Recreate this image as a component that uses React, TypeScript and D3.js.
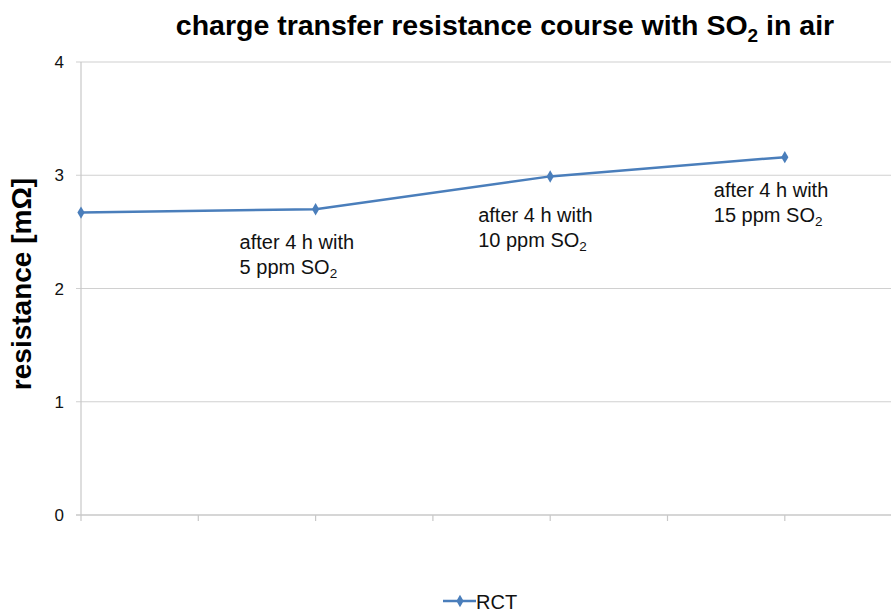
import React from "react";
import * as d3 from "d3";

const xPositions = [0, 2, 4, 6];
const rctValues = [2.67, 2.7, 2.99, 3.16];
const yTicks = [0, 1, 2, 3, 4];
const xTicks = [0, 1, 2, 3, 4, 5, 6, 7];
const annotationX = [2, 4, 6];
const annotationLine1 = ["after 4 h with", "after 4 h with", "after 4 h with"];
const annotationLine2 = ["5 ppm SO", "10 ppm SO", "15 ppm SO"];

const W = 891;
const H = 614;
const left = 81;
const top = 62;
const bottom = 515;
const annOffsets = [
  { dx: -76, dy: 40 },
  { dx: -72, dy: 46 },
  { dx: -71, dy: 40 },
];

export default function App() {
  const x = d3.scaleLinear().domain([0, 7]).range([left, left + 7 * 117.3]);
  const y = d3.scaleLinear().domain([0, 4]).range([bottom, top]);
  const line = d3
    .line<number>()
    .x((_, i) => x(xPositions[i]))
    .y((d) => y(d));
  const diamond = d3.symbol().type(d3.symbolDiamond).size(45)() as string;
  const font = "Liberation Sans, Arial, sans-serif";
  const lineColor = "#4a7ebb";

  return (
    <svg
      width={W}
      height={H}
      style={{ position: "absolute", left: 0, top: 0, background: "#fff" }}
      fontFamily={font}
    >
      {yTicks.slice(1).map((t) => (
        <line key={t} x1={left - 5} x2={W} y1={y(t)} y2={y(t)} stroke="#d0d0d0" strokeWidth={1.2} />
      ))}
      <line x1={left} x2={left} y1={top} y2={bottom} stroke="#c8c8c8" strokeWidth={1.2} />
      <line x1={left - 5} x2={W} y1={bottom} y2={bottom} stroke="#c8c8c8" strokeWidth={1.4} />
      {xTicks.map((t) => (
        <line key={t} x1={x(t)} x2={x(t)} y1={bottom} y2={bottom + 6} stroke="#c8c8c8" strokeWidth={1.2} />
      ))}
      {yTicks.map((t) => (
        <text key={t} x={64} y={y(t) + 6} textAnchor="end" fontSize={17} fill="#111">
          {t}
        </text>
      ))}
      <text
        transform={`translate(31, 284) rotate(-90)`}
        textAnchor="middle"
        fontSize={28}
        fontWeight="bold"
        fill="#000"
      >
        resistance [mΩ]
      </text>
      <text x={505} y={35} textAnchor="middle" fontSize={28.5} fontWeight="bold" fill="#000">
        charge transfer resistance course with SO
        <tspan fontSize={19} dy={7}>2</tspan>
        <tspan dy={-7}> in air</tspan>
      </text>
      <path d={line(rctValues) || ""} fill="none" stroke={lineColor} strokeWidth={2.5} />
      {rctValues.map((v, i) => (
        <path key={i} d={diamond} transform={`translate(${x(xPositions[i])},${y(v)})`} fill={lineColor} />
      ))}
      {annotationX.map((ax, i) => {
        const v = rctValues[xPositions.indexOf(ax)];
        const bx = x(ax) + annOffsets[i].dx;
        const by = y(v) + annOffsets[i].dy;
        return (
          <text key={i} x={bx} y={by} fontSize={20} fill="#111">
            <tspan x={bx}>{annotationLine1[i]}</tspan>
            <tspan x={bx} dy={24.5}>{annotationLine2[i]}</tspan>
            <tspan fontSize={13.5} dy={4}>2</tspan>
          </text>
        );
      })}
      <line x1={443} x2={476} y1={601} y2={601} stroke={lineColor} strokeWidth={2.5} />
      <path d={diamond} transform="translate(460,601)" fill={lineColor} />
      <text x={476} y={609} fontSize={20} fill="#111">RCT</text>
    </svg>
  );
}
